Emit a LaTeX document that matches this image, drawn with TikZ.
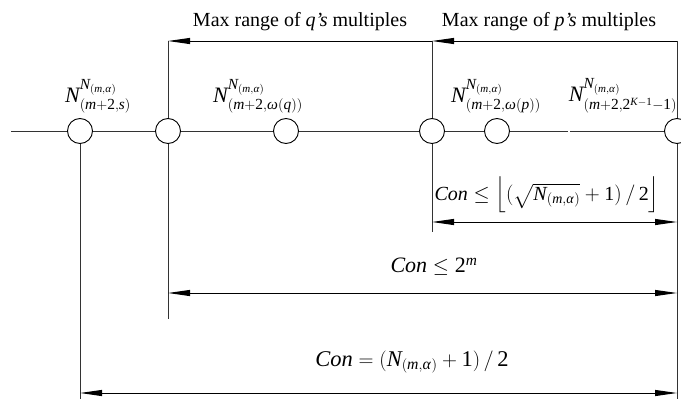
\documentclass[tikz,border=0pt]{standalone}
\usepackage{amsmath,amssymb}
\usepackage{mathspec}
\setmainfont{Liberation Serif}
\setmathsfont(Digits,Latin,Greek){Liberation Serif}
\usetikzlibrary{arrows.meta,positioning,calc}
\tikzset{
  point/.style={circle, draw=black, fill=white, minimum size=25pt, inner sep=0pt, line width=.9pt},
  axis line/.style={black!80, line width=1pt},
  range arrow/.style={black, line width=1pt, -{Triangle[length=22pt,width=6pt]}},
  bound arrow/.style={black, line width=1pt, {Triangle[length=22pt,width=6pt]}-{Triangle[length=22pt,width=6pt]}},
  range label/.style={font=\fontsize{20}{22}\selectfont},
  term label/.style={font=\fontsize{22}{24}\selectfont},
  bound label/.style={font=\fontsize{22}{24}\selectfont},
}

\begin{document}
\begin{tikzpicture}[x=1pt,y=-1pt]
  \useasboundingbox (0,0) rectangle (681,399);

  % points on the line
  \node[point] (p1) at (80,131) {};
  \node[point] (p2) at (168,131) {};
  \node[point] (p3) at (286,131) {};
  \node[point] (p4) at (432,131) {};
  \node[point] (p5) at (497,131) {};
  \node[point] (p6) at (677,131) {};
  \coordinate (start) at (11,131);
  \coordinate (gapl) at (568,131);
  \coordinate (gapr) at (570,131);

  % the line, with a short break before the last point
  \draw[axis line] (start) -- (p1);
  \draw[axis line] (p1) -- (p2);
  \draw[axis line] (p2) -- (p3);
  \draw[axis line] (p3) -- (p4);
  \draw[axis line] (p4) -- (p5);
  \draw[axis line] (p5) -- (gapl);
  \draw[axis line] (gapr) -- (p6);

  % extension lines
  \coordinate (t2) at (168,41);
  \coordinate (t4) at (432,41);
  \coordinate (t6) at (677,41);
  \coordinate (b1) at (80,399);
  \coordinate (b2) at (168,319);
  \coordinate (b4) at (432,232);
  \coordinate (b6) at (677,399);
  \draw[axis line] (p1) -- (b1);
  \draw[axis line] (p2) -- (t2);
  \draw[axis line] (p2) -- (b2);
  \draw[axis line] (p4) -- (t4);
  \draw[axis line] (p4) -- (b4);
  \draw[axis line] (p6) -- (t6);
  \draw[axis line] (p6) -- (b6);

  % ranges of multiples
  \draw[range arrow] (t6) -- (t4);
  \draw[range arrow] (t4) -- (t2);
  \node[range label] (qrange) at (300,22) {Max range of \textit{q's} multiples};
  \node[range label] (prange) at (549,22) {Max range of \textit{p's} multiples};

  % terms
  \node[term label] (ns) at (98,96) {$N^{N_{(m,\alpha)}}_{(m+2,s)}$};
  \node[term label] (nq) at (258,96) {$N^{N_{(m,\alpha)}}_{(m+2,\omega(q))}$};
  \node[term label] (np) at (496,96) {$N^{N_{(m,\alpha)}}_{(m+2,\omega(p))}$};
  \node[term label] (nk) at (623,96) {$N^{N_{(m,\alpha)}}_{(m+2,2^{K-1}-1)}$};

  % bounds on Con
  \coordinate (a4) at (432,222);
  \coordinate (a6) at (677,222);
  \coordinate (m2) at (168,293);
  \coordinate (m6) at (677,293);
  \coordinate (f1) at (80,393);
  \coordinate (f6) at (677,393);
  \draw[bound arrow] (a4) -- (a6);
  \draw[bound arrow] (m2) -- (m6);
  \draw[bound arrow] (f1) -- (f6);
  \node[bound label,font=\fontsize{20}{22}\selectfont] (sqrtbound) at (547,195)
    {$Con\le\left\lfloor(\sqrt{N_{(m,\alpha)}}+1)\,/\,2\right\rfloor$};
  \node[bound label] (powbound) at (434,267) {$Con\le 2^m$};
  \node[bound label,font=\fontsize{22.5}{25}\selectfont] (fullbound) at (412,362)
    {$Con=(N_{(m,\alpha)}+1)\,/\,2$};
\end{tikzpicture}
\end{document}
